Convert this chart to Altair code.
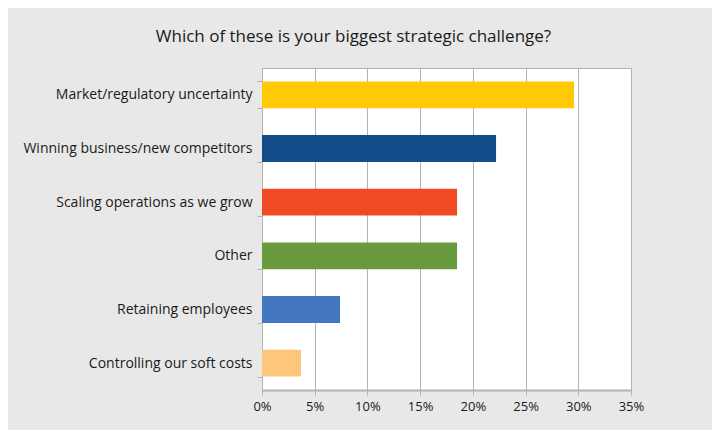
import altair as alt
import pandas as pd

categories = [
    "Market/regulatory uncertainty",
    "Winning business/new competitors",
    "Scaling operations as we grow",
    "Other",
    "Retaining employees",
    "Controlling our soft costs",
]
values = [0.296, 0.222, 0.185, 0.185, 0.074, 0.037]
colors = ["#FFCA05", "#124C89", "#F04A24", "#699A3D", "#4377BF", "#FEC67A"]

df = pd.DataFrame({"category": categories, "value": values, "color": colors})

FONT = "Open Sans"
GRAY = "#b3b3b3"
TEXT = "#1a1a1a"

chart = (
    alt.Chart(df)
    .mark_bar()
    .encode(
        x=alt.X(
            "value:Q",
            scale=alt.Scale(domain=[0, 0.35], nice=False),
            axis=alt.Axis(
                values=[0, 0.05, 0.10, 0.15, 0.20, 0.25, 0.30, 0.35],
                format=".0%",
                title=None,
                grid=True,
                gridColor=GRAY,
                gridWidth=1,
                domainColor=GRAY,
                domainWidth=2,
                tickColor=GRAY,
                tickSize=5,
                labelFont=FONT,
                labelFontSize=13,
                labelColor=TEXT,
                labelPadding=5,
                labelFlush=False,
            ),
        ),
        y=alt.Y(
            "category:N",
            sort=categories,
            scale=alt.Scale(paddingInner=0.5, paddingOuter=0.25),
            axis=alt.Axis(
                title=None,
                tickBand="extent",
                grid=False,
                domainColor=GRAY,
                tickColor=GRAY,
                tickSize=5,
                labelFont=FONT,
                labelFontSize=14,
                labelColor=TEXT,
                labelPadding=5,
                labelLimit=400,
            ),
        ),
        color=alt.Color("color:N", scale=None, legend=None),
    )
    .properties(
        width=369,
        height=322,
        title=alt.TitleParams(
            "Which of these is your biggest strategic challenge?",
            font=FONT,
            fontSize=17,
            fontWeight="normal",
            color=TEXT,
            anchor="middle",
            frame="group",
            dx=-93,
            offset=15,
        ),
        autosize=alt.AutoSizeParams(type="none"),
        padding={"left": 254, "top": 60, "right": 81, "bottom": 40},
    )
    .configure(background="#e8e8e8")
    .configure_view(fill="white", stroke=GRAY, strokeWidth=1)
)

chart.save("out.html", embed_options={"renderer": "svg", "actions": False})
